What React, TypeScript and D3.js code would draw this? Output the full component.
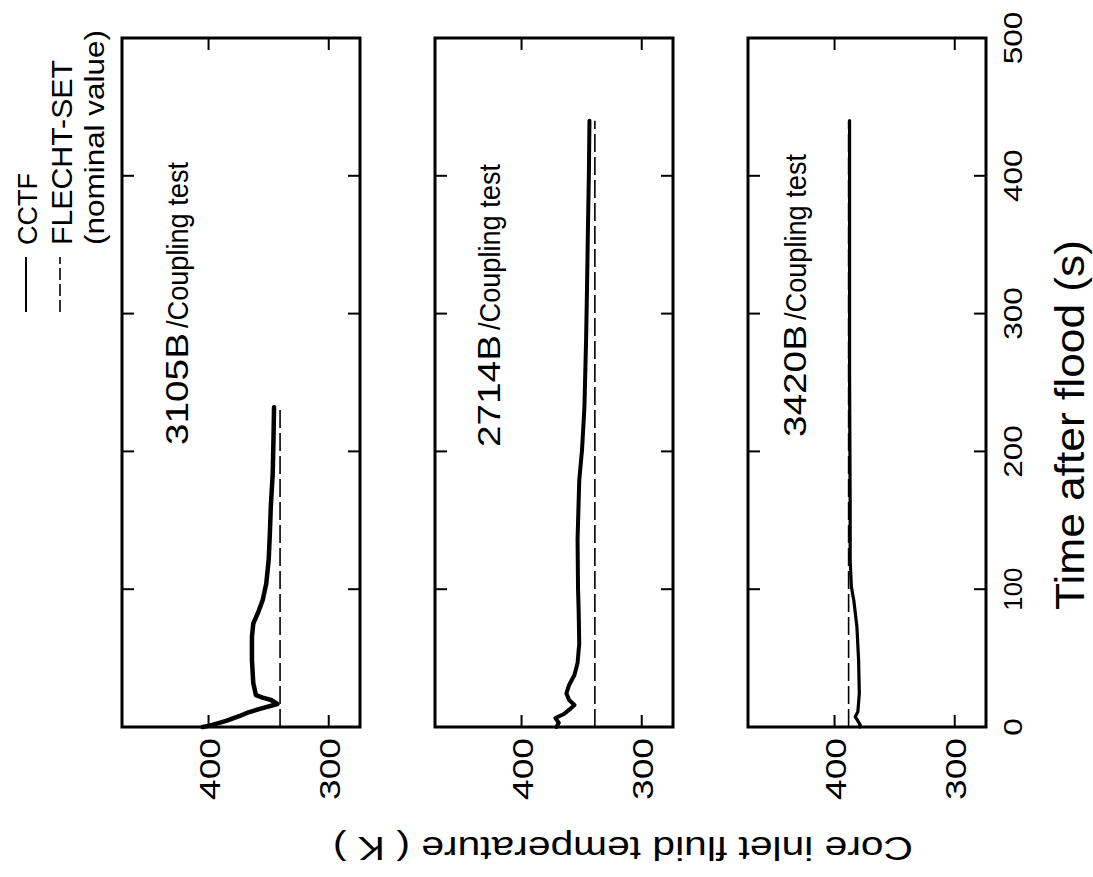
import React from "react";
import * as d3 from "d3";

// Time after flood (s) and core inlet fluid temperature (K) per test
const test3105Time = [0, 1, 4.4, 8, 10.4, 13, 16.7, 19.6, 21.3, 23.2, 32, 48.6, 65.5, 75, 82.6, 92, 104, 121, 140, 160, 184, 208, 232];
const test3105Temp = [405, 399, 385.4, 374, 367.5, 358, 342.7, 348, 355, 360.6, 362.8, 363.9, 363.9, 362.8, 359, 355, 352, 350, 349, 348.2, 346.6, 346, 345.5];
const test3105Nominal = 340.5;
const test3105End = 232;

const test2714Time = [0, 3, 6.5, 9.4, 13.5, 16, 19.6, 24.4, 30.5, 37.7, 46.4, 60.7, 85, 100, 136, 179, 201, 232, 281, 320, 360, 400, 440];
const test2714Temp = [371, 369, 371.8, 364.7, 359, 356, 360.4, 362.7, 360.4, 356, 353.4, 352, 352.5, 353, 353.4, 352, 349.7, 347.7, 346.3, 345.5, 344.8, 344, 343.5];
const test2714Nominal = 339;
const test2714End = 440;

const test3420Time = [0, 1.5, 7.5, 11, 24.4, 48.6, 72.8, 92, 101.7, 121, 160, 257, 350, 440];
const test3420Temp = [379, 378.6, 382.8, 380.6, 379.4, 380, 381.4, 384, 386, 387, 387, 387.5, 387.5, 387.5];
const test3420Nominal = 388.3;
const test3420End = 440;

const panelNames = ["3105B", "2714B", "3420B"];
const panelSuffix = "/Coupling test";
const timeTicks = [0, 100, 200, 300, 400, 500];
const tempTicks = [400, 300];
const legendLabels = ["CCTF", "FLECHT-SET", "(nominal value)"];

type Panel = {
  name: string;
  time: number[];
  temp: number[];
  nominal: number;
  end: number;
  top: number;
  labelStart: number;
  labelBase: number;
  lineWidth: number;
};

const panels: Panel[] = [
  { name: panelNames[0], time: test3105Time, temp: test3105Temp, nominal: test3105Nominal, end: test3105End, top: 122, labelStart: 432, labelBase: 66, lineWidth: 4.5 },
  { name: panelNames[1], time: test2714Time, temp: test2714Temp, nominal: test2714Nominal, end: test2714End, top: 435, labelStart: 430, labelBase: 65, lineWidth: 4 },
  { name: panelNames[2], time: test3420Time, temp: test3420Temp, nominal: test3420Nominal, end: test3420End, top: 748, labelStart: 440, labelBase: 58, lineWidth: 3.2 },
];

// The figure is laid out in portrait coordinates (u across, v down)
// and then turned a quarter turn counter-clockwise onto the page.
const PAGE_W = 1093;
const PAGE_H = 877;
const PANEL_H = 238;
const FONT = "'Liberation Sans', Arial, Helvetica, sans-serif";

const tScale = d3.scaleLinear().domain([0, 500]).range([150, 839]);

// width of a tick label, with the narrow "1" of the plotter digits
const digitsWidth = (s: string) =>
  s.split("").reduce((w, c) => w + (c === "1" ? 8 : 17.5), 0);

export default function App() {
  const u0 = tScale(0);
  const u1 = tScale(500);
  const tickLen = 12;

  return (
    <svg
      width={PAGE_W}
      height={PAGE_H}
      style={{ position: "absolute", left: 0, top: 0, background: "#fff" }}
      fontFamily={FONT}
    >
      <rect width={PAGE_W} height={PAGE_H} fill="#fff" />
      <g transform={`translate(0,${PAGE_H}) rotate(-90)`}>
        {panels.map((p, i) => {
          const y = d3.scaleLinear().domain([274, 472]).range([p.top + PANEL_H, p.top]);
          const line = d3
            .line<number>()
            .x((_, k) => tScale(p.time[k]))
            .y((d) => y(d));
          const nominalLine = d3
            .line<number>()
            .x((d) => tScale(d))
            .y(() => y(p.nominal));
          const v0 = p.top;
          const v1 = p.top + PANEL_H;
          return (
            <g key={p.name}>
              {/* FLECHT-SET nominal inlet temperature */}
              <path
                d={nominalLine([0, p.end]) || ""}
                fill="none"
                stroke="#000"
                strokeWidth={1.6}
                strokeDasharray="18,5"
              />
              {/* CCTF measured inlet temperature */}
              <path
                d={line(p.temp) || ""}
                fill="none"
                stroke="#000"
                strokeWidth={p.lineWidth}
                strokeLinejoin="round"
                strokeLinecap="round"
              />
              {/* frame */}
              <rect x={u0} y={v0} width={u1 - u0} height={PANEL_H} fill="none" stroke="#000" strokeWidth={3} />
              {/* inward time ticks on both long edges */}
              {timeTicks.slice(1, -1).map((t) => (
                <g key={`t${t}`}>
                  <line x1={tScale(t)} x2={tScale(t)} y1={v0} y2={v0 + tickLen} stroke="#000" strokeWidth={2} />
                  <line x1={tScale(t)} x2={tScale(t)} y1={v1} y2={v1 - tickLen} stroke="#000" strokeWidth={2} />
                </g>
              ))}
              {/* inward temperature ticks on both short edges */}
              {tempTicks.map((T) => (
                <g key={`T${T}`}>
                  <line x1={u0} x2={u0 + tickLen} y1={y(T)} y2={y(T)} stroke="#000" strokeWidth={2} />
                  <line x1={u1} x2={u1 - tickLen} y1={y(T)} y2={y(T)} stroke="#000" strokeWidth={2} />
                  <text x={139} y={y(T) + 11} fontSize={30} textAnchor="end" textLength={62} lengthAdjust="spacingAndGlyphs">
                    {T}
                  </text>
                </g>
              ))}
              {/* test label */}
              <text x={p.labelStart} y={v0 + p.labelBase} fontSize={31} textLength={112} lengthAdjust="spacingAndGlyphs">
                {p.name}
              </text>
              <text x={p.labelStart + 117} y={v0 + p.labelBase} fontSize={30} textLength={166} lengthAdjust="spacingAndGlyphs">
                {panelSuffix}
              </text>
              {i === panels.length - 1 &&
                timeTicks.map((t) => (
                  <text
                    key={`tl${t}`}
                    x={tScale(t)}
                    y={1022}
                    fontSize={25}
                    textAnchor="middle"
                    textLength={digitsWidth(String(t))}
                    lengthAdjust="spacingAndGlyphs"
                  >
                    {t}
                  </text>
                ))}
            </g>
          );
        })}

        {/* axis titles */}
        <text x={267} y={1084} fontSize={40} textLength={370} lengthAdjust="spacingAndGlyphs">
          Time after flood  (s)
        </text>
        <text
          transform="translate(40,913) rotate(-90)"
          fontSize={34}
          textLength={580}
          lengthAdjust="spacingAndGlyphs"
        >
          Core inlet fluid temperature  ( K )
        </text>

        {/* legend */}
        <line x1={565} x2={620} y1={26} y2={26} stroke="#000" strokeWidth={2} />
        <line x1={565} x2={620} y1={60} y2={60} stroke="#000" strokeWidth={1.6} strokeDasharray="12,4" />
        <text x={632} y={37} fontSize={28} textLength={72} lengthAdjust="spacingAndGlyphs">
          {legendLabels[0]}
        </text>
        <text x={632} y={72} fontSize={30} textLength={185} lengthAdjust="spacingAndGlyphs">
          {legendLabels[1]}
        </text>
        <text x={632} y={104} fontSize={28} textLength={215} lengthAdjust="spacingAndGlyphs">
          {legendLabels[2]}
        </text>
      </g>
    </svg>
  );
}
